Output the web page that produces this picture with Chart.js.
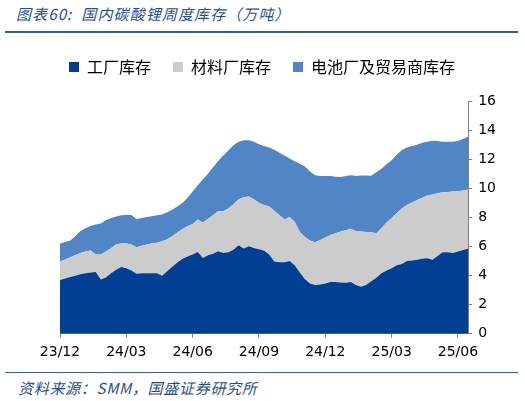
<!DOCTYPE html>
<html>

<head>
    <title>lithium_carbonate_inventory</title>
    <script src="https://cdn.jsdelivr.net/npm/chart.js"></script>
    <style>
        body {
            margin: 0;
            width: 525px;
            height: 401px;
            background: #fff;
            position: relative;
            overflow: hidden;
            font-family: "Noto Sans CJK SC", "DejaVu Sans", sans-serif;
        }
        #title {
            position: absolute;
            left: 16px;
            top: 3px;
            font-size: 15px;
            letter-spacing: 1.1px;
            font-style: italic;
            color: #1f4e9c;
            white-space: nowrap;
        }
        #title span {
            margin-left: 9px;
        }
        #topLine {
            position: absolute;
            left: 5px;
            top: 31px;
            width: 513px;
            height: 2px;
            background: #2f5fa7;
        }
        #bottomLine {
            position: absolute;
            left: 5px;
            top: 372px;
            width: 513px;
            height: 1px;
            background: #2f5fa7;
        }
        #source {
            position: absolute;
            left: 18px;
            top: 377px;
            font-size: 15px;
            letter-spacing: 0.7px;
            font-style: italic;
            color: #1f4e9c;
            white-space: nowrap;
        }
        #chartBox {
            position: absolute;
            left: 0;
            top: 37px;
            width: 525px;
            height: 333px;
        }
    </style>
</head>

<body>
    <div id="title">图表60:<span>国内碳酸锂周度库存（万吨）</span></div>
    <div id="topLine"></div>
    <div id="chartBox"><canvas id="chartCanvas"></canvas></div>
    <div id="bottomLine"></div>
    <div id="source">资料来源：SMM，国盛证券研究所</div>
    <script>
        // 周度数据，起始 2023-12-04，单位：万吨
        const startDate = '2023-12-04';
        const weekCount = 81;
        const tickLabels = ['23/12', '24/03', '24/06', '24/09', '24/12', '25/03', '25/06'];
        const seriesNames = ['工厂库存', '材料厂库存', '电池厂及贸易商库存'];

        const factoryStock = [
            3.70, 3.80, 3.90, 3.98, 4.08, 4.15, 4.21, 4.24, 3.72, 3.87,
            4.15, 4.40, 4.58, 4.50, 4.35, 4.12, 4.15, 4.16, 4.16, 4.16,
            3.98, 4.30, 4.60, 4.90, 5.15, 5.30, 5.45, 5.62, 5.20, 5.40,
            5.50, 5.67, 5.55, 5.60, 5.78, 6.08, 5.86, 6.02, 5.90, 5.80,
            5.70, 5.44, 4.97, 4.92, 4.92, 5.00, 4.70, 4.20, 3.75, 3.45,
            3.35, 3.38, 3.45, 3.55, 3.55, 3.52, 3.50, 3.55, 3.35, 3.22,
            3.35, 3.60, 3.85, 4.16, 4.35, 4.50, 4.70, 4.80, 5.00, 5.03,
            5.08, 5.15, 5.18, 5.08, 5.35, 5.60, 5.60, 5.55, 5.65, 5.75,
            5.86
        ];
        const materialStock = [
            1.27, 1.30, 1.35, 1.42, 1.47, 1.50, 1.51, 1.21, 1.72, 1.78,
            1.73, 1.75, 1.62, 1.70, 1.79, 1.83, 1.90, 1.98, 2.04, 2.09,
            2.37, 2.20, 2.10, 2.05, 2.05, 2.08, 2.10, 2.23, 2.44, 2.50,
            2.65, 2.76, 2.87, 3.00, 3.12, 3.17, 3.52, 3.41, 3.35, 3.20,
            3.15, 3.31, 3.48, 3.23, 2.95, 3.03, 3.00, 2.80, 2.90, 2.95,
            2.93, 3.07, 3.17, 3.23, 3.35, 3.50, 3.62, 3.67, 3.71, 3.80,
            3.65, 3.37, 3.05, 3.09, 3.30, 3.45, 3.60, 3.80, 3.85, 3.99,
            4.12, 4.20, 4.32, 4.49, 4.30, 4.12, 4.15, 4.22, 4.15, 4.10,
            4.05
        ];
        const batteryTraderStock = [
            1.23, 1.20, 1.16, 1.30, 1.51, 1.60, 1.69, 2.05, 2.13, 2.15,
            2.07, 1.90, 1.95, 1.97, 2.03, 1.92, 1.90, 1.89, 1.88, 1.90,
            1.85, 1.85, 1.82, 1.80, 1.78, 1.97, 2.23, 2.35, 2.96, 3.10,
            3.30, 3.45, 3.83, 4.00, 4.05, 3.95, 3.92, 3.87, 3.95, 4.02,
            4.05, 4.05, 4.20, 4.30, 4.38, 4.02, 4.15, 4.68, 4.85, 4.75,
            4.62, 4.39, 4.22, 4.06, 3.90, 3.75, 3.73, 3.68, 3.79, 3.86,
            3.87, 3.89, 4.20, 4.10, 4.00, 3.98, 4.00, 4.03, 3.95, 3.88,
            3.80, 3.78, 3.70, 3.70, 3.60, 3.48, 3.45, 3.43, 3.45, 3.55,
            3.64
        ];

        const weekLabels = [];
        const d0 = new Date(startDate + 'T00:00:00Z');
        for (let i = 0; i < weekCount; i++) {
            const d = new Date(d0.getTime() + i * 7 * 86400000);
            weekLabels.push(d.toISOString().slice(0, 10));
        }

        // 季度首周显示标签，其余隐藏（同时隐藏刻度线）
        function quarterLabel(dateStr) {
            const month = parseInt(dateStr.slice(5, 7));
            const day = parseInt(dateStr.slice(8, 10));
            if (day > 7 || month % 3 !== 0) return null;
            const text = dateStr.slice(2, 4) + '/' + dateStr.slice(5, 7);
            return tickLabels.includes(text) ? text : null;
        }

        // 图例：与绘图区之间留出更大间距，并整体左移居中于画面
        const legendTweak = {
            id: 'legendTweak',
            beforeInit(chart) {
                const legend = chart.legend;
                const fit = legend.fit;
                legend.fit = function () {
                    fit.apply(this, arguments);
                    this.height += 16;
                };
                const draw = legend.draw;
                legend.draw = function () {
                    chart.ctx.save();
                    chart.ctx.translate(-19, 0);
                    draw.apply(this, arguments);
                    chart.ctx.restore();
                };
            }
        };

        const axisFont = { family: '"DejaVu Sans", sans-serif', size: 14 };
        const colors = ['#003f93', '#cccccc', '#5086c6'];

        const chart = new Chart(document.getElementById('chartCanvas'), {
            type: 'line',
            data: {
                labels: weekLabels,
                datasets: [factoryStock, materialStock, batteryTraderStock].map((values, k) => ({
                    label: seriesNames[k],
                    data: values,
                    backgroundColor: colors[k],
                    borderColor: colors[k],
                    borderWidth: 0,
                    pointRadius: 0,
                    tension: 0,
                    fill: k === 0 ? 'origin' : '-1'
                }))
            },
            options: {
                responsive: true,
                maintainAspectRatio: false,
                animation: false,
                layout: {
                    padding: { left: 60, right: 23, top: 0, bottom: 3.5 }
                },
                plugins: {
                    legend: {
                        position: 'top',
                        labels: {
                            boxWidth: 10,
                            boxHeight: 10,
                            padding: 22,
                            color: '#000',
                            font: { family: '"Noto Sans CJK SC", sans-serif', size: 16 }
                        }
                    },
                    tooltip: { enabled: false }
                },
                scales: {
                    x: {
                        grid: {
                            drawOnChartArea: false,
                            drawTicks: true,
                            tickLength: 4,
                            color: '#808080'
                        },
                        border: { color: '#808080' },
                        ticks: {
                            autoSkip: false,
                            maxRotation: 0,
                            padding: 6,
                            color: '#000',
                            font: axisFont,
                            callback: function (value) {
                                return quarterLabel(this.getLabelForValue(value));
                            }
                        }
                    },
                    y: {
                        position: 'right',
                        stacked: true,
                        min: 0,
                        max: 16,
                        grid: {
                            drawOnChartArea: false,
                            drawTicks: true,
                            tickLength: 4,
                            color: '#808080'
                        },
                        border: { color: '#808080' },
                        ticks: {
                            stepSize: 2,
                            padding: 6,
                            color: '#000',
                            font: axisFont
                        }
                    }
                }
            },
            plugins: [legendTweak]
        });
    </script>
</body>

</html>
